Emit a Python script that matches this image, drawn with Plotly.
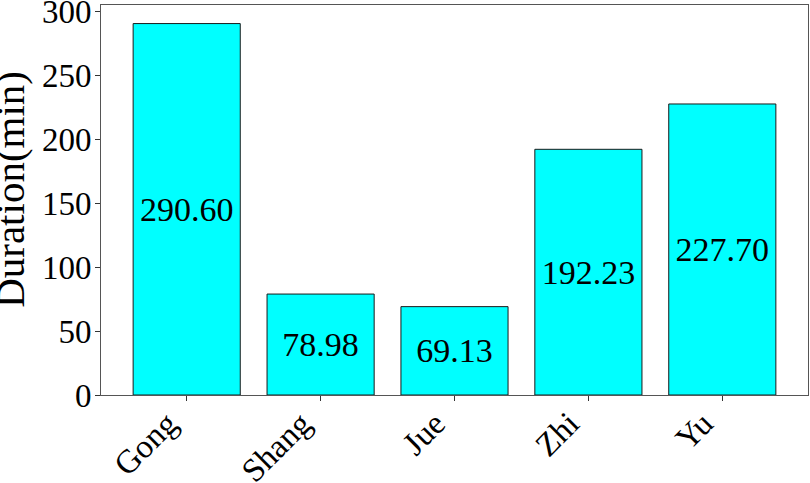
import plotly.graph_objects as go

modes = ['Gong', 'Shang', 'Jue', 'Zhi', 'Yu']
durations = [290.60, 78.98, 69.13, 192.23, 227.70]
labels = [f'{v:.2f}' for v in durations]

FONT = 'Liberation Serif, Times New Roman, serif'

fig = go.Figure()
fig.add_trace(go.Bar(x=modes, y=durations, width=0.8,
                     marker=dict(color='#00ffff', line=dict(color='#1a1a1a', width=1)),
                     text=labels, textposition='inside', insidetextanchor='middle',
                     constraintext='none',
                     textfont=dict(family=FONT, size=34, color='black'),
                     showlegend=False))

fig.update_layout(
    width=810, height=483,
    margin=dict(l=101, r=2, t=5, b=88),
    plot_bgcolor='white', paper_bgcolor='white',
    font=dict(family=FONT, size=33, color='black'),
    uniformtext=dict(mode=False),
)
fig.update_xaxes(range=[-0.64, 4.64], tickangle=-45, ticks='outside', ticklen=5,
                 tickcolor='#333', showline=True, linecolor='#555', linewidth=1,
                 mirror=True, showgrid=False, tickfont=dict(size=33),
                 automargin=False, ticklabeloverflow='allow',
                 ticklabelshift=-19, ticklabelstandoff=-10)
fig.update_yaxes(range=[0, 305.13], tickvals=[0, 50, 100, 150, 200, 250, 300],
                 ticks='outside', ticklen=5, tickcolor='#333', showline=True,
                 linecolor='#555', linewidth=1, mirror=True, showgrid=False,
                 zeroline=False, tickfont=dict(size=33), automargin=False,
                 ticklabeloverflow='allow', ticklabelstandoff=-3)

# y axis title, placed like the original
fig.add_annotation(text='Duration(min)', textangle=-90, showarrow=False,
                   xref='paper', yref='paper', x=0, y=0.526,
                   xanchor='center', yanchor='middle', xshift=-91,
                   font=dict(size=41))

fig.write_html('out.html', config={'displayModeBar': False},
               post_script="document.body.style.margin='0';")
